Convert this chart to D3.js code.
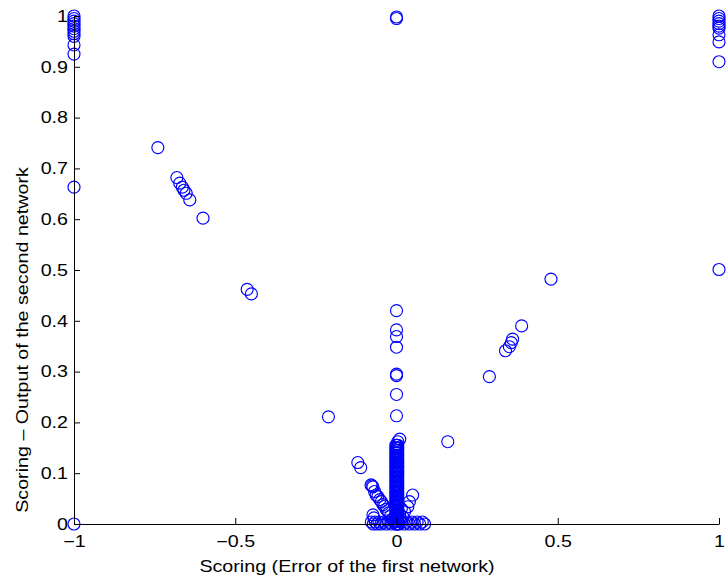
<!DOCTYPE html>
<html>
<head>
<meta charset="utf-8">
<script src="https://cdn.jsdelivr.net/npm/d3@7"></script>
<style>
  html, body { margin: 0; padding: 0; background: #fff; }
  svg { display: block; }
  text { font-family: "Liberation Sans", Arial, Helvetica, sans-serif; fill: #000; }
</style>
</head>
<body>
<svg id="chart" width="727" height="583"></svg>
<script>
// ---------------- data ----------------
const xTicks = [-1, -0.5, 0, 0.5, 1];
const xTickLabels = ["\u22121", "\u22120.5", "0", "0.5", "1"];
const yTicks = [0, 0.1, 0.2, 0.3, 0.4, 0.5, 0.6, 0.7, 0.8, 0.9, 1];
const yTickLabels = ["0", "0.1", "0.2", "0.3", "0.4", "0.5", "0.6", "0.7", "0.8", "0.9", "1"];
const xLabel = "Scoring (Error of the first network)";
const yLabel = "Scoring \u2013 Output of the second network";

// points at x = -1
const leftEdgeX = -1;
const leftEdgeY = [1.0, 0.995, 0.99, 0.985, 0.98, 0.975, 0.97, 0.965, 0.96, 0.943, 0.925, 0.663, 0.0];
// points at x = 1
const rightEdgeX = 1;
const rightEdgeY = [1.0, 0.995, 0.99, 0.985, 0.98, 0.976, 0.963, 0.949, 0.91, 0.501];
// points at x = 0 near the top
const topCenter = [[0, 0.998], [0, 0.995]];
// left diagonal
const leftDiag = [[-0.74, 0.741], [-0.681, 0.682], [-0.672, 0.671], [-0.664, 0.663], [-0.659, 0.657],
  [-0.652, 0.651], [-0.641, 0.638], [-0.600, 0.602], [-0.463, 0.462], [-0.450, 0.453],
  [-0.211, 0.211], [-0.12, 0.121], [-0.111, 0.111]];
// right diagonal
const rightDiag = [[0.479, 0.482], [0.388, 0.390], [0.360, 0.364], [0.356, 0.357], [0.350, 0.349],
  [0.338, 0.341], [0.288, 0.290], [0.159, 0.162]];
// central column, upper part (x about 0)
const centerColTop = [[0, 0.42], [0, 0.382], [0, 0.369], [0, 0.348], [0, 0.295], [0, 0.292], [0, 0.255],
  [0, 0.213], [0.01, 0.167], [0.004, 0.162]];
// central column, dense lower part: y values, drawn at two x offsets
const centerColY = [0.155, 0.15, 0.145, 0.14, 0.135, 0.13, 0.125, 0.12, 0.115, 0.11, 0.105, 0.1,
  0.095, 0.09, 0.085, 0.08, 0.075, 0.07, 0.065, 0.06, 0.055, 0.05, 0.045, 0.04, 0.035, 0.03,
  0.025, 0.02, 0.015, 0.01, 0.005, 0.0];
const centerColX = [-0.002, 0.001, 0.004];
// small cluster left of the column
const bottomLeft = [[-0.079, 0.077], [-0.076, 0.075], [-0.073, 0.073], [-0.068, 0.064], [-0.063, 0.057],
  [-0.058, 0.054], [-0.052, 0.048], [-0.047, 0.044], [-0.042, 0.038], [-0.037, 0.035],
  [-0.032, 0.029], [-0.028, 0.026], [-0.024, 0.022], [-0.018, 0.016], [-0.073, 0.018],
  [-0.07, 0.012], [-0.012, 0.01], [-0.008, 0.006]];
// small cluster right of the column
const bottomRight = [[0.05, 0.057], [0.04, 0.044], [0.035, 0.034], [0.025, 0.024], [0.02, 0.014],
  [0.012, 0.01], [0.015, 0.03], [0.01, 0.02]];
// row along y = 0
const bottomRowX = [-0.078, -0.072, -0.066, -0.06, -0.054, -0.048, -0.04, -0.032, -0.024, -0.016, -0.008,
  0.008, 0.016, 0.024, 0.032, 0.04, 0.048, 0.056, 0.064, 0.072, 0.08, 0.087];
const bottomRowY = [0.004, 0, 0.004, 0, 0.004, 0, 0.004, 0, 0.004, 0, 0.004,
  0, 0.004, 0, 0.004, 0, 0.004, 0, 0.004, 0, 0.004, 0];

// ---------------- assemble ----------------
const points = [].concat(
  leftEdgeY.map(y => [leftEdgeX, y]),
  rightEdgeY.map(y => [rightEdgeX, y]),
  topCenter, leftDiag, rightDiag, centerColTop,
  ...centerColX.map(cx => centerColY.map(cy => [cx, cy])),
  bottomLeft, bottomRight,
  bottomRowX.map((x, i) => [x, bottomRowY[i]])
);

// ---------------- drawing ----------------
const svg = d3.select("#chart");
const plot = { left: 74, right: 719, top: 16, bottom: 524 };
const fontSize = 16.4;
const stretch = 1.2;

const x = d3.scaleLinear().domain([-1, 1]).range([plot.left, plot.right]);
const y = d3.scaleLinear().domain([0, 1]).range([plot.bottom, plot.top]);

// points
svg.append("g")
  .selectAll("circle")
  .data(points)
  .join("circle")
  .attr("cx", d => x(d[0]))
  .attr("cy", d => y(d[1]))
  .attr("r", 6)
  .attr("fill", "none")
  .attr("stroke", "#0000ff")
  .attr("stroke-width", 1.15);

// x axis
const xAxis = d3.axisBottom(x)
  .tickValues(xTicks)
  .tickFormat((d, i) => xTickLabels[i])
  .tickSizeInner(-6)
  .tickSizeOuter(0)
  .tickPadding(11);
const gx = svg.append("g").attr("transform", `translate(0,${plot.bottom})`).call(xAxis);
gx.select(".domain").attr("stroke", "#000");
gx.selectAll(".tick line").attr("stroke", "#000");
gx.selectAll(".tick text")
  .style("font-size", fontSize + "px")
  .style("font-family", '"Liberation Sans", Arial, Helvetica, sans-serif')
  .attr("fill", "#000")
  .attr("transform", `scale(${stretch},1)`);

// y axis
const yAxis = d3.axisLeft(y)
  .tickValues(yTicks)
  .tickFormat((d, i) => yTickLabels[i])
  .tickSizeInner(-6)
  .tickSizeOuter(0)
  .tickPadding(6);
const gy = svg.append("g").attr("transform", `translate(${plot.left},0)`).call(yAxis);
gy.select(".domain").attr("stroke", "#000");
gy.selectAll(".tick line").attr("stroke", "#000");
gy.selectAll(".tick text")
  .style("font-size", fontSize + "px")
  .style("font-family", '"Liberation Sans", Arial, Helvetica, sans-serif')
  .attr("fill", "#000")
  .attr("x", -6 / stretch)
  .attr("transform", `scale(${stretch},1)`);

// axis titles
svg.append("text")
  .attr("transform", `translate(347,572) scale(${stretch},1)`)
  .attr("text-anchor", "middle")
  .style("font-size", fontSize + "px")
  .text(xLabel);

svg.append("text")
  .attr("transform", `translate(28,340) rotate(-90) scale(${stretch},1)`)
  .attr("text-anchor", "middle")
  .style("font-size", fontSize + "px")
  .text(yLabel);
</script>
</body>
</html>
